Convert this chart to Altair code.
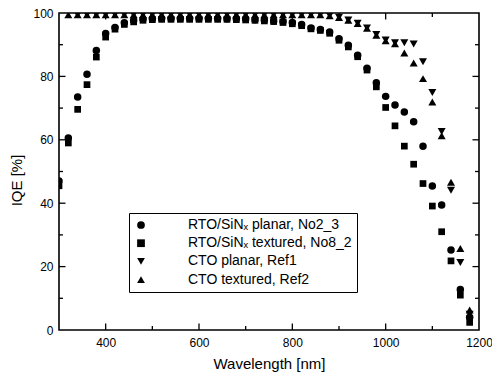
import altair as alt
import pandas as pd

wavelength = [300, 320, 340, 360, 380, 400, 420, 440, 460, 480,
              500, 520, 540, 560, 580, 600, 620, 640, 660, 680,
              700, 720, 740, 760, 780, 800, 820, 840, 860, 880,
              900, 920, 940, 960, 980, 1000, 1020, 1040, 1060, 1080,
              1100, 1120, 1140, 1160, 1180]

rto_planar = [47.0, 60.6, 73.5, 80.7, 88.2, 93.5, 95.4, 96.9, 97.6, 98.0,
              98.2, 98.3, 98.3, 98.3, 98.3, 98.3, 98.3, 98.3, 98.2, 98.2,
              98.1, 97.9, 97.7, 97.5, 97.3, 97.0, 96.4, 95.3, 94.8, 94.0,
              91.9, 89.8, 86.7, 82.6, 78.0, 73.7, 71.0, 68.8, 65.7, 58.0,
              45.4, 39.4, 25.2, 12.8, 4.0]

rto_textured = [45.5, 59.0, 69.6, 77.4, 86.1, 92.4, 94.9, 96.4, 97.2, 97.7,
                97.9, 98.0, 98.0, 98.0, 98.0, 98.0, 98.0, 98.0, 98.0, 97.9,
                97.8, 97.7, 97.5, 97.3, 97.0, 96.6, 96.0, 95.0, 94.5, 93.6,
                91.4, 89.3, 86.2, 82.0, 76.7, 70.2, 64.4, 58.0, 52.3, 46.2,
                39.1, 31.0, 21.8, 11.0, 2.4]

cto_planar = [None, None, 99.5, 99.5, 99.5, 99.5, 99.5, 99.5, 99.5, 99.5,
              99.5, 99.5, 99.5, 99.5, 99.5, 99.5, 99.5, 99.5, 99.5, 99.5,
              99.5, 99.5, 99.5, 99.5, 99.5, 99.5, 99.5, 99.5, 99.5, 99.2,
              98.7, 97.8, 96.8, 95.3, 93.2, 91.5, 90.6, 90.6, 90.2, 84.6,
              74.9, 62.6, 44.1, 21.3, 5.0]

cto_textured = [None, 99.4, 99.4, 99.4, 99.4, 99.4, 99.4, 99.4, 99.4, 99.4,
                99.4, 99.4, 99.4, 99.4, 99.4, 99.4, 99.4, 99.4, 99.4, 99.4,
                99.4, 99.4, 99.4, 99.4, 99.4, 99.4, 99.4, 99.4, 99.4, 99.1,
                98.6, 97.7, 96.7, 95.2, 93.0, 91.2, 90.3, 87.4, 84.2, 79.3,
                71.9, 61.3, 46.6, 25.7, 6.3]

series_names = ["RTO/SiN\u2093 planar, No2_3",
                "RTO/SiN\u2093 textured, No8_2",
                "CTO planar, Ref1",
                "CTO textured, Ref2"]
series_values = [rto_planar, rto_textured, cto_planar, cto_textured]
series_shapes = ["circle", "square", "triangle-down", "triangle-up"]
series_sizes = [56, 45, 64, 64]

x_major_ticks = [400, 600, 800, 1000]
x_minor_ticks = [500, 700, 900, 1100]
y_major_ticks = [20, 40, 60, 80]
y_minor_ticks = [10, 30, 50, 70, 90]
x_label_values = [400, 600, 800, 1000, 1200]
y_label_values = [0, 20, 40, 60, 80, 100]

W, H = 420, 317
FONT = "Liberation Sans"
xscale = alt.Scale(domain=[300, 1200], nice=False, zero=False)
yscale = alt.Scale(domain=[0, 100], nice=False, zero=False)

x_axis = alt.Axis(values=x_label_values, format="d", title="Wavelength [nm]", ticks=False,
                  domain=False, grid=False, labelFlush=False, labelPadding=7,
                  labelFontSize=12, titleFontSize=15, titlePadding=8)
y_axis = alt.Axis(values=y_label_values, format="d", title="IQE  [%]", ticks=False,
                  domain=False, grid=False, labelPadding=6, labelFontSize=12,
                  titleFontSize=15, titlePadding=8, titleY=167)

shape_scale = alt.Scale(domain=series_names, range=series_shapes)
legend = alt.Legend(title=None, orient="none", legendX=70, legendY=200,
                    strokeColor="black", fillColor="white", padding=5,
                    symbolOffset=0, labelOffset=40, labelFontSize=14, labelLimit=400,
                    labelFont=FONT, labelColor="black", symbolSize=60,
                    symbolFillColor="black", symbolStrokeColor="black",
                    rowPadding=4.2)

point_layers = []
for name, vals, size in zip(series_names, series_values, series_sizes):
    d = pd.DataFrame([{"wavelength": w, "iqe": v, "series": name}
                      for w, v in zip(wavelength, vals) if v is not None])
    point_layers.append(
        alt.Chart(d).mark_point(filled=True, opacity=1, clip=True, size=size, color="black").encode(
            x=alt.X("wavelength:Q", scale=xscale, axis=x_axis),
            y=alt.Y("iqe:Q", scale=yscale, axis=y_axis),
            shape=alt.Shape("series:N", scale=shape_scale, legend=legend),
        )
    )

def tick_layer(values, field, orient, length):
    d = pd.DataFrame({field: values})
    base = alt.Chart(d).mark_rule(color="black", strokeWidth=1.3)
    if orient == "bottom":
        return base.encode(x=alt.X(f"{field}:Q", scale=xscale, axis=x_axis),
                           y=alt.value(H), y2=alt.value(H - length))
    if orient == "top":
        return base.encode(x=alt.X(f"{field}:Q", scale=xscale, axis=x_axis),
                           y=alt.value(0), y2=alt.value(length))
    if orient == "left":
        return base.encode(y=alt.Y(f"{field}:Q", scale=yscale, axis=y_axis),
                           x=alt.value(0), x2=alt.value(length))
    return base.encode(y=alt.Y(f"{field}:Q", scale=yscale, axis=y_axis),
                       x=alt.value(W), x2=alt.value(W - length))

ticks = [
    tick_layer(x_major_ticks, "xt", "bottom", 6.5),
    tick_layer(x_minor_ticks, "xt", "bottom", 4),
    tick_layer(x_major_ticks, "xt", "top", 6.5),
    tick_layer(x_minor_ticks, "xt", "top", 4),
    tick_layer(y_major_ticks, "yt", "left", 6.5),
    tick_layer(y_minor_ticks, "yt", "left", 4),
    tick_layer(y_major_ticks, "yt", "right", 6.5),
    tick_layer(y_minor_ticks, "yt", "right", 4),
]

chart = alt.layer(*point_layers, *ticks).properties(
    width=W, height=H,
    padding={"left": 59, "top": 13, "right": 13, "bottom": 49},
    autosize=alt.AutoSizeParams(type="none"),
    background="white",
).configure_view(
    stroke="black", strokeWidth=1.6
).configure_axis(
    labelFont=FONT, titleFont=FONT, labelColor="black", titleColor="black",
    titleFontWeight="normal"
)

chart.save("out.html", embed_options={"renderer": "svg", "actions": False})
